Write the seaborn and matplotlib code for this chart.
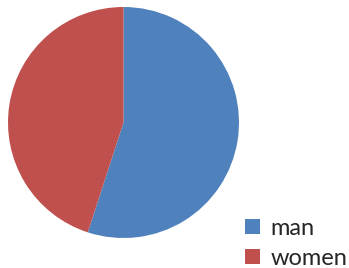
import matplotlib.pyplot as plt
import seaborn as sns

labels = ['man', 'women']
shares = [55, 45]
colors = ['#4F81BD', '#C0504D']

sns.set_style('white')
plt.rcParams['font.family'] = ['Lato', 'DejaVu Sans']

fig = plt.figure(figsize=(3.49, 2.68), dpi=100)
ax = fig.add_axes([8 / 349, 30 / 268, 231 / 349, 231 / 268])
wedges, _ = ax.pie(shares, colors=colors, startangle=90, counterclock=False,
                   radius=1, wedgeprops={'linewidth': 0})
ax.set_xlim(-1, 1)
ax.set_ylim(-1, 1)
ax.set_aspect('equal')
ax.axis('off')

fig.legend(wedges, labels, loc='lower left', bbox_to_anchor=(236 / 349, -0.04),
           frameon=False, fontsize=17, handlelength=0.6, handleheight=0.6,
           handletextpad=0.45, labelspacing=0.4, borderaxespad=0.0)

plt.savefig('out.png', dpi=100)
